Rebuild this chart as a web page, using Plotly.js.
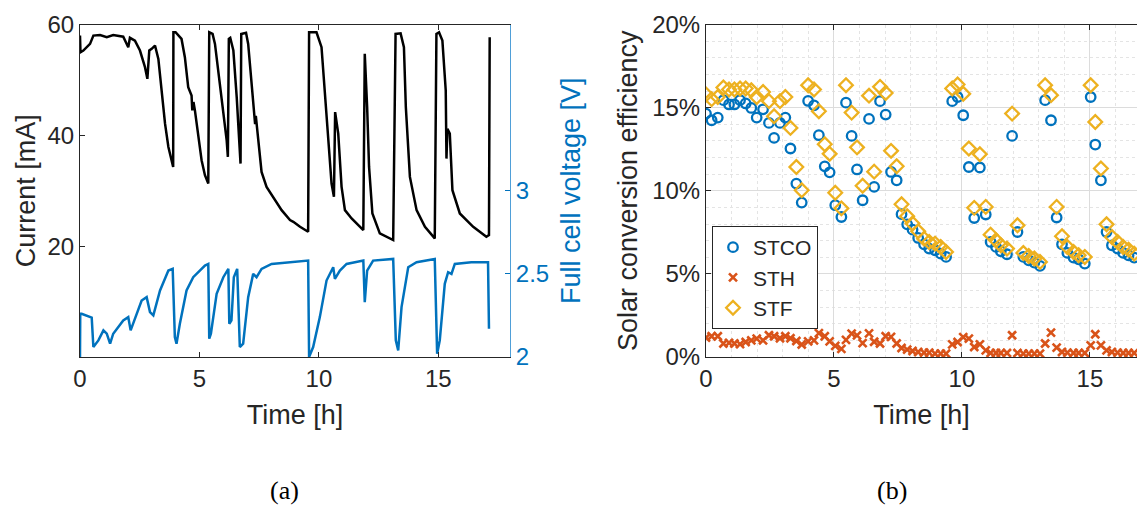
<!DOCTYPE html>
<html><head><meta charset="utf-8">
<script src="https://cdn.plot.ly/plotly-3.0.1.min.js"></script>
<style>html,body{margin:0;padding:0;background:#fff}#chart{width:1137px;height:507px}</style>
</head><body><div id="chart"></div>
<script>
// (a) Current and full cell voltage vs time
const currentTime = [0,0.02,0.14,0.42,0.56,0.84,1.12,1.39,1.81,2.02,2.09,2.30,2.51,2.72,2.82,2.90,3.00,3.14,3.28,3.42,3.56,3.70,3.84,3.90,3.91,4.00,4.25,4.39,4.53,4.67,4.70,4.75,4.81,4.95,5.09,5.23,5.37,5.41,5.55,5.65,5.79,5.97,6.14,6.19,6.23,6.29,6.42,6.56,6.67,6.72,6.75,6.95,7.04,7.18,7.28,7.33,7.36,7.46,7.60,7.81,8.09,8.44,8.79,8.93,9.21,9.55,9.59,9.90,10.11,10.25,10.39,10.53,10.63,10.68,10.81,10.95,11.09,11.37,11.86,11.92,12.02,12.10,12.24,12.55,13.11,13.21,13.42,13.56,13.64,13.81,14.09,14.44,14.85,14.92,15.03,15.17,15.31,15.34,15.38,15.48,15.59,15.90,16.46,17.01,17.12,17.15];
const currentmA = [58,55.0,55.3,56.5,58.0,58.1,57.7,58.1,57.8,55.9,57.6,57.1,55.3,52.3,50.2,55.3,55.6,56.2,53.8,48.1,42.1,37.9,35.5,34.3,58.6,58.6,57.4,54.1,48.7,47.2,44.5,46.0,44.5,39.7,35.5,32.8,31.3,58.6,58.3,56.5,51.7,45.1,39.1,36.1,57.4,57.6,55.3,46.9,39.1,34.9,58.3,58.5,56.5,49.3,43.9,42.0,43.5,39.1,33.4,30.7,28.9,26.5,24.7,24.4,23.5,22.6,58.6,58.6,55.9,47.5,38.5,31.3,28.9,44.2,40.3,30.7,26.5,25.0,22.9,54.7,45.1,34.3,25.9,22.3,21.1,58.3,58.4,55.9,45.1,32.5,26.5,23.5,21.4,58.3,58.6,57.1,48.1,35.8,41.2,40.3,30.1,25.9,23.5,21.7,22.0,57.7];
const voltageTime = [0,0.01,0.07,0.49,0.56,0.77,0.98,1.12,1.26,1.39,1.81,2.02,2.12,2.58,2.79,2.93,3.07,3.35,3.70,3.88,3.97,4.04,4.18,4.46,4.74,5.23,5.37,5.41,5.48,5.72,6.00,6.21,6.25,6.34,6.44,6.58,6.69,6.83,7.04,7.25,7.39,7.60,8.02,8.65,9.55,9.59,9.76,10.04,10.32,10.60,10.67,10.88,11.16,11.86,11.92,12.02,12.27,13.11,13.22,13.32,13.46,13.74,14.09,14.85,14.95,15.06,15.27,15.41,15.55,15.69,16.38,17.08,17.12];
const voltageV = [2.0,2.26,2.26,2.237,2.06,2.10,2.16,2.14,2.08,2.14,2.22,2.24,2.16,2.34,2.36,2.27,2.25,2.40,2.52,2.53,2.12,2.08,2.20,2.40,2.48,2.55,2.56,2.11,2.14,2.38,2.48,2.53,2.20,2.22,2.48,2.53,2.06,2.08,2.36,2.50,2.48,2.53,2.56,2.57,2.58,2.0,2.06,2.24,2.46,2.54,2.47,2.52,2.56,2.58,2.33,2.52,2.58,2.59,2.10,2.04,2.30,2.54,2.57,2.59,2.02,2.10,2.44,2.51,2.50,2.56,2.57,2.57,2.17];

// (b) Solar conversion efficiencies [%]
const effTime = [0,0.22,0.46,0.68,0.90,1.11,1.33,1.55,1.77,1.98,2.23,2.46,2.66,2.89,3.10,3.30,3.53,3.74,3.99,4.22,4.41,4.64,4.83,5.05,5.29,5.47,5.69,5.90,6.12,6.37,6.57,6.80,7.02,7.23,7.45,7.64,7.86,8.07,8.29,8.52,8.72,8.95,9.17,9.38,9.62,9.83,10.05,10.27,10.48,10.70,10.93,11.12,11.33,11.52,11.76,11.96,12.17,12.40,12.61,12.83,13.05,13.25,13.48,13.70,13.91,14.12,14.36,14.56,14.80,15.03,15.21,15.43,15.65,15.86,16.08,16.30,16.51,16.73];
const stco = [14.64,14.24,14.40,15.45,15.19,15.19,15.45,15.25,14.98,14.40,14.90,14.08,13.18,14.08,14.40,12.54,10.43,9.29,15.40,15.14,13.34,11.47,11.11,9.13,8.42,15.30,13.30,11.28,9.43,14.32,10.23,15.39,14.58,11.13,10.63,8.59,7.98,7.66,7.16,6.78,6.52,6.42,6.22,6.02,15.39,15.64,14.54,11.43,8.36,11.40,8.57,6.92,6.62,6.36,6.18,13.30,7.52,6.02,5.82,5.68,5.48,15.45,14.24,8.39,6.78,6.26,5.98,5.88,5.62,15.64,12.78,10.63,7.52,6.72,6.52,6.26,6.12,5.98];
const sth = [1.17,1.25,1.25,0.81,0.85,0.81,0.77,0.90,1.00,1.11,1.00,1.31,1.25,1.13,1.25,1.13,0.96,0.75,0.94,1.00,1.44,1.25,0.94,0.67,0.49,1.03,1.41,1.30,0.83,1.42,0.92,0.81,1.25,1.21,0.81,0.54,0.44,0.36,0.30,0.26,0.26,0.20,0.20,0.20,0.76,0.90,1.20,1.11,0.60,0.76,0.40,0.24,0.24,0.24,0.24,1.31,0.24,0.20,0.20,0.20,0.20,0.81,1.47,0.56,0.30,0.26,0.24,0.24,0.24,0.70,1.37,0.70,0.40,0.30,0.26,0.24,0.24,0.24];
const stf = [15.79,15.51,15.64,16.21,16.09,16.09,16.15,16.15,16.05,15.64,15.94,15.39,14.48,15.39,15.64,13.78,11.43,10.03,16.35,16.09,14.78,12.80,12.22,9.88,8.94,16.35,14.70,12.61,10.30,15.72,11.15,16.25,15.88,12.40,11.47,9.19,8.47,8.03,7.56,7.12,6.92,6.82,6.62,6.32,16.15,16.39,15.83,12.54,8.97,12.20,9.03,7.36,7.02,6.72,6.52,14.64,7.92,6.26,6.08,5.92,5.72,16.35,15.75,9.03,7.26,6.62,6.32,6.12,6.02,16.35,14.14,11.34,7.98,7.22,6.92,6.62,6.46,6.22];

const xTicks = [0,5,10,15];
const currentTicks = [20,40,60];
const voltageTicks = [2,2.5,3];
const effTicks = [0,5,10,15,20];
const effTickText = ['0%','5%','10%','15%','20%'];

const W = 1137, H = 507;
const FONT = 'Liberation Sans, Arial, sans-serif';
const TXT = '#262626';
const BLUE = '#0072BD', ORANGE = '#D95319', YELLOW = '#EDB120';
const px = v => v / W, py = v => 1 - v / H;

const traces = [
  {x: currentTime, y: currentmA, type: 'scatter', mode: 'lines', line: {color: '#000000', width: 2.5}, xaxis: 'x', yaxis: 'y', showlegend: false, hoverinfo: 'skip'},
  {x: voltageTime, y: voltageV, type: 'scatter', mode: 'lines', line: {color: BLUE, width: 2.5}, xaxis: 'x', yaxis: 'y2', showlegend: false, hoverinfo: 'skip'},
  {x: effTime, y: stco, type: 'scatter', mode: 'markers', name: 'STCO', xaxis: 'x2', yaxis: 'y3',
   marker: {symbol: 'circle-open', size: 9.5, color: BLUE, line: {width: 2.3}}},
  {x: effTime, y: sth, type: 'scatter', mode: 'markers', name: 'STH', xaxis: 'x2', yaxis: 'y3',
   marker: {symbol: 'x-thin-open', size: 8, color: ORANGE, line: {width: 2.6}}},
  {x: effTime, y: stf, type: 'scatter', mode: 'markers', name: 'STF', xaxis: 'x2', yaxis: 'y3',
   marker: {symbol: 'diamond-open', size: 10.5, color: YELLOW, line: {width: 2.3}}}
];

const tickFont = {family: FONT, size: 24, color: TXT};
const titleFont = {family: FONT, size: 27, color: TXT};
const yDom = [py(357), py(24.5)];

const layout = {
  width: W, height: H,
  margin: {l: 0, r: 0, t: 0, b: 0},
  paper_bgcolor: '#ffffff', plot_bgcolor: '#ffffff',
  font: {family: FONT, color: TXT},
  xaxis: {domain: [px(80), px(510)], range: [0, 18], anchor: 'y', tickvals: xTicks,
    ticks: 'inside', ticklen: 5, tickcolor: TXT, showline: true, linecolor: TXT, linewidth: 1, mirror: 'ticks',
    showgrid: false, zeroline: false, tickfont: tickFont,
    title: {text: 'Time [h]', font: titleFont, standoff: 14}},
  yaxis: {domain: yDom, range: [0, 60], anchor: 'x', tickvals: currentTicks,
    ticks: 'inside', ticklen: 5, tickcolor: TXT, showline: true, linecolor: TXT, linewidth: 1,
    showgrid: false, zeroline: false, tickfont: tickFont,
    title: {text: 'Current [mA]', font: titleFont, standoff: 4}},
  yaxis2: {overlaying: 'y', side: 'right', anchor: 'x', range: [2, 4], tickvals: voltageTicks, ticktext: ['2','2.5','3'],
    ticks: 'inside', ticklen: 5, tickcolor: BLUE, showline: true, linecolor: '#4f9fd8', linewidth: 1,
    showgrid: false, zeroline: false, tickfont: {family: FONT, size: 24, color: BLUE},
    title: {text: 'Full cell voltage [V]', font: {family: FONT, size: 27, color: BLUE}, standoff: 12}},
  xaxis2: {domain: [px(706), 1], range: [0, 16.84], anchor: 'y3', tickvals: xTicks,
    ticks: 'inside', ticklen: 5, tickcolor: TXT, showline: true, linecolor: TXT, linewidth: 1, mirror: 'ticks',
    showgrid: true, gridcolor: '#dcdcdc', gridwidth: 1, zeroline: false, tickfont: tickFont,
    minor: {dtick: 1, tick0: 0, showgrid: true, gridcolor: '#e4e4e4', griddash: 'dot', gridwidth: 1},
    title: {text: 'Time [h]', font: titleFont, standoff: 14}},
  yaxis3: {domain: yDom, range: [0, 20], anchor: 'x2', tickvals: effTicks, ticktext: effTickText,
    ticks: 'inside', ticklen: 5, tickcolor: TXT, showline: true, linecolor: TXT, linewidth: 1,
    showgrid: true, gridcolor: '#dcdcdc', gridwidth: 1, zeroline: false, tickfont: tickFont,
    minor: {dtick: 1, tick0: 0, showgrid: true, gridcolor: '#e4e4e4', griddash: 'dot', gridwidth: 1},
    title: {text: 'Solar conversion efficiency', font: titleFont, standoff: 6}},
  legend: {x: px(712), y: py(226), xanchor: 'left', yanchor: 'top', bgcolor: '#ffffff',
    bordercolor: TXT, borderwidth: 1, font: {family: FONT, size: 21, color: TXT}, tracegroupgap: 0},
  annotations: [
    {text: '(a)', x: px(284), y: py(490), xref: 'paper', yref: 'paper', xanchor: 'center', yanchor: 'middle', showarrow: false,
     font: {family: 'Liberation Serif, Times New Roman, serif', size: 26, color: '#000'}},
    {text: '(b)', x: px(892), y: py(490), xref: 'paper', yref: 'paper', xanchor: 'center', yanchor: 'middle', showarrow: false,
     font: {family: 'Liberation Serif, Times New Roman, serif', size: 26, color: '#000'}}
  ],
  showlegend: true
};

Plotly.newPlot('chart', traces, layout, {staticPlot: true, displayModeBar: false});
</script></body></html>
